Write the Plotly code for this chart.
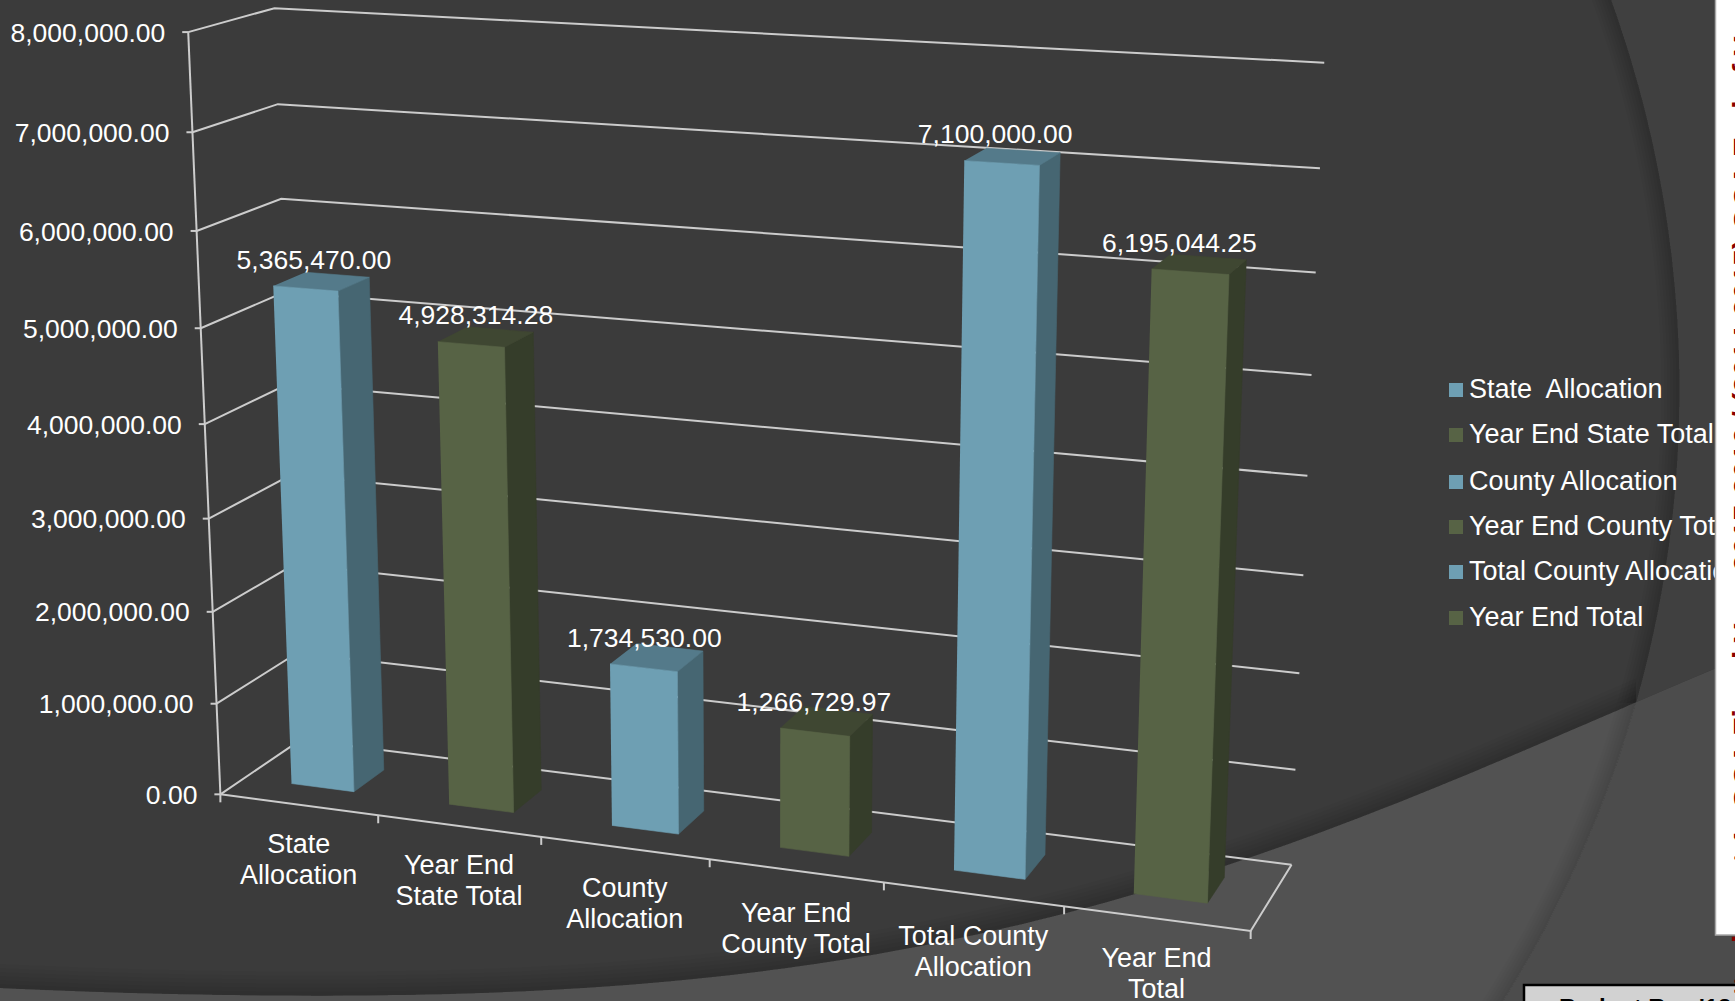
import numpy as np
import plotly.graph_objects as go

# ---- chart data -------------------------------------------------------------
categories = [["State", "Allocation"], ["Year End", "State Total"], ["County", "Allocation"],
              ["Year End", "County Total"], ["Total County", "Allocation"], ["Year End", "Total"]]
values = [5365470.00, 4928314.28, 1734530.00, 1266729.97, 7100000.00, 6195044.25]
value_labels = ["5,365,470.00", "4,928,314.28", "1,734,530.00", "1,266,729.97", "7,100,000.00", "6,195,044.25"]
tick_values = [0, 1000000, 2000000, 3000000, 4000000, 5000000, 6000000, 7000000, 8000000]
tick_labels = ["0.00", "1,000,000.00", "2,000,000.00", "3,000,000.00", "4,000,000.00",
               "5,000,000.00", "6,000,000.00", "7,000,000.00", "8,000,000.00"]
legend_labels = ["State\u00a0 Allocation", "Year End State Total", "County Allocation",
                 "Year End County Total", "Total County Allocation", "Year End Total"]

BLUE = ("#6e9fb3", "#466672", "#547a8a")
GREEN = ("#576345", "#353d2a", "#3f4732")
palette = [BLUE, GREEN, BLUE, GREEN, BLUE, GREEN]

W, H = 1735, 1001
FONT = "Liberation Sans"

# ---- 3D box projection: (category position, value in millions, depth) -> page --
anchors = [
    (0, 8, 0, 188.7, 32.3), (0, 7, 0, 191.4, 132.3), (0, 6, 0, 196.0, 230.7), (0, 5, 0, 200.9, 328.3),
    (0, 4, 0, 205.5, 424.0), (0, 2, 0, 212.4, 611.7), (0, 1, 0, 215.5, 703.3), (0, 0, 0, 221.2, 794.3),
    (0, 8, 1, 274.4, 8.3), (0, 7, 1, 278.0, 104.3), (0, 6, 1, 281.7, 198.7), (0, 0, 1, 300.0, 740.0),
    (6, 8, 1, 1324.5, 63.0), (6, 7, 1, 1320.0, 168.0), (6, 6, 1, 1315.6, 272.0), (6, 5, 1, 1311.0, 375.0),
    (6, 4, 1, 1308.0, 476.0), (6, 3, 1, 1303.5, 575.0), (6, 2, 1, 1299.0, 673.0), (6, 1, 1, 1295.4, 769.7),
    (6, 0, 1, 1291.6, 864.7), (6, 0, 0, 1250.8, 930.7),
    (1, 0, 0, 378.9, 815.7), (2, 0, 0, 541.5, 836.7), (3, 0, 0, 710.0, 858.7), (4, 0, 0, 884.0, 882.7),
    (5, 0, 0, 1063.3, 907.3),
]
A, b = [], []
for cx, cv, cz, px, py in anchors:
    A.append([cx, cv, cz, 1, 0, 0, 0, 0, -px * cx, -px * cv, -px * cz])
    A.append([0, 0, 0, 0, cx, cv, cz, 1, -py * cx, -py * cv, -py * cz])
    b += [px, py]
m = np.linalg.lstsq(np.array(A, float), np.array(b, float), rcond=None)[0]
P = np.append(m, 1.0).reshape(3, 4)


def project(cat, val, depth):
    """Page position of a point in chart space; val is in axis units."""
    h = P @ np.array([cat, val / 1e6, depth, 1.0])
    return h[0] / h[2], h[1] / h[2]


# ---- slide background -------------------------------------------------------
CX, CY, R = 530.8, 390.2, 1148.5
curve_fit = np.polyfit(
    [0, 140, 280, 450, 610, 849, 1084, 1134, 1224, 1412, 1642, 1735],
    [988, 993, 996, 994, 985, 960, 908, 894, 866, 797, 700, 660], 5)


def curve_y(x):
    return np.polyval(curve_fit, x)


def arc_x(y, off=0):
    return CX + np.sqrt((R - off) ** 2 - (y - CY) ** 2)


def path(xs, ys):
    return "M" + " L".join(f"{x:.1f},{y:.1f}" for x, y in zip(xs, ys)) + " Z"


def below(d, fill, layer="below"):
    return dict(type="path", path=d, fillcolor=fill, line=dict(width=0), layer=layer, xref="x", yref="y")


shapes = []
ys = np.linspace(0, H, 60)
shapes.append(below(path(np.r_[arc_x(ys), W, W], np.r_[ys, H, 0]), "#4c4c4c"))

xs = np.linspace(0, W, 120)
shapes.append(below(path(np.r_[xs, W, 0], np.r_[curve_y(xs), 0, 0]), "#3b3b3b"))

# part of the slide right of the arc and above the sweeping curve
yy = np.linspace(0, H, 1000)
y_meet = yy[np.argmin(np.abs(curve_y(arc_x(yy)) - yy))]
ya = np.linspace(0, y_meet, 50)
xc = np.linspace(arc_x(y_meet), W, 20)
shapes.append(below(path(np.r_[arc_x(ya), xc, W], np.r_[ya, curve_y(xc), 0]), "#404040"))

# soft shadows that run along both curves
xs_s = np.linspace(0, arc_x(y_meet), 100)
for k in range(4, 28, 4):
    shapes.append(below(path(np.r_[xs_s, xs_s[::-1]], np.r_[curve_y(xs_s), curve_y(xs_s[::-1]) - k]), "rgba(0,0,0,0.028)"))
for k in range(3, 21, 3):
    shapes.append(below(path(np.r_[arc_x(ya), arc_x(ya[::-1], k)], np.r_[ya, ya[::-1]]), "rgba(0,0,0,0.03)"))
yb = np.linspace(y_meet, H, 30)
for k in range(3, 21, 3):
    shapes.append(below(path(np.r_[arc_x(yb), arc_x(yb[::-1], k)], np.r_[yb, yb[::-1]]), "rgba(0,0,0,0.015)"))

# white notes panel and the box under it sit on top of the clipped legend text
shapes.append(dict(type="rect", x0=1715.5, x1=1745, y0=-10, y1=935, fillcolor="#ffffff",
                   line=dict(color="#a8a8a8", width=1.5), layer="above"))
shapes.append(dict(type="rect", x0=1524, x1=1745, y0=985, y1=1020, fillcolor="#d2d2d2",
                   line=dict(color="#000000", width=2.5), layer="above"))

fig = go.Figure()


def add_line(pts, width=2.0, color="#cccccc"):
    fig.add_trace(go.Scatter(x=[p[0] for p in pts], y=[p[1] for p in pts], mode="lines",
                             line=dict(color=color, width=width), hoverinfo="skip", showlegend=False))


# ---- walls, floor and axes --------------------------------------------------
for v in tick_values:
    add_line([project(0, v, 0), project(0, v, 1), project(6, v, 1)])
    fx, fy = project(0, v, 0)
    add_line([(fx - 6, fy), (fx, fy)])
add_line([project(0, 0, 0), project(0, 8e6, 0)])
add_line([project(0, 0, 0), project(6, 0, 0), project(6, 0, 1)])
for i in range(0, 7):
    fx, fy = project(i, 0, 0)
    add_line([(fx, fy), (fx, fy + 8)])

# ---- bars, drawn as three visible faces each ---------------------------------
X0, X1, Z0, Z1 = 0.30, 0.70, 0.30, 0.69


def face(corners, color):
    pts = [project(*c) for c in corners]
    fig.add_trace(go.Scatter(x=[p[0] for p in pts], y=[p[1] for p in pts], mode="lines", fill="toself",
                             fillcolor=color, line=dict(color=color, width=0.6),
                             hoverinfo="skip", showlegend=False))


for i, (v, col) in enumerate(zip(values, palette)):
    a, c = i + X0, i + X1
    face([(c, 0, Z0), (c, 0, Z1), (c, v, Z1), (c, v, Z0)], col[1])
    face([(a, v, Z0), (c, v, Z0), (c, v, Z1), (a, v, Z1)], col[2])
    face([(a, 0, Z0), (c, 0, Z0), (c, v, Z0), (a, v, Z0)], col[0])


def text_trace(xs, ys, texts, position, size=26.5, color="#ffffff"):
    fig.add_trace(go.Scatter(x=xs, y=ys, text=texts, mode="text", textposition=position,
                             textfont=dict(family=FONT, size=size, color=color),
                             hoverinfo="skip", showlegend=False))


# ---- value labels, axis labels, key ------------------------------------------
lab = [project(i + 0.5, v, 0.5) for i, v in enumerate(values)]
lift = [19.5, 19.5, 17, 17, 20.5, 18.5]
nudge = [-8, -10.4, -12.8, -13, -17.6, -20]
text_trace([p[0] + n for p, n in zip(lab, nudge)], [p[1] - d for p, d in zip(lab, lift)],
           value_labels, "middle center")

tk = [project(0, v, 0) for v in tick_values]
text_trace([p[0] - 23 for p in tk], [p[1] + 3 for p in tk], tick_labels, "middle left")

cat = [project(i + 0.5, 0, 0) for i in range(len(categories))]
label_drop = [57, 57, 58, 60, 60, 57]
for row, shift in enumerate((-15.5, 15.5)):
    text_trace([p[0] for p in cat], [p[1] + d + shift for p, d in zip(cat, label_drop)],
               [c[row] for c in categories], "middle center", size=27)

key_y = [390, 435, 482, 527, 572, 618]
fig.add_trace(go.Scatter(x=[1456] * 6, y=key_y, mode="markers",
                         marker=dict(symbol="square", size=14, color=[c[0] for c in palette], line=dict(width=0)),
                         hoverinfo="skip", showlegend=False))
text_trace([1469] * 6, [k + 1 for k in key_y], legend_labels, "middle right", size=27)

annotations = [
    dict(x=W, y=465, xref="x", yref="y", showarrow=False, textangle=-90, xshift=8,
         text="<b>Attachment 1: GCA Fiscal Year 2015-2016 / (2014-2015) GCA End of Year Fund</b>",
         font=dict(family=FONT, size=30, color="#8b0000"), xanchor="center", yanchor="middle"),
    dict(x=1558, y=997, xref="x", yref="y", showarrow=False, text="<b>Budget Rev '18</b>",
         font=dict(family=FONT, size=24, color="#000000"), xanchor="left", yanchor="top", borderpad=0, yshift=4),
]

fig.update_layout(
    width=W, height=H, autosize=False, margin=dict(l=0, r=0, t=0, b=0),
    paper_bgcolor="#525252", plot_bgcolor="rgba(0,0,0,0)", showlegend=False,
    xaxis=dict(range=[0, W], visible=False, fixedrange=True),
    yaxis=dict(range=[H, 0], visible=False, fixedrange=True),
    shapes=shapes, annotations=annotations,
)
fig.write_html("out.html", config={"displayModeBar": False})
